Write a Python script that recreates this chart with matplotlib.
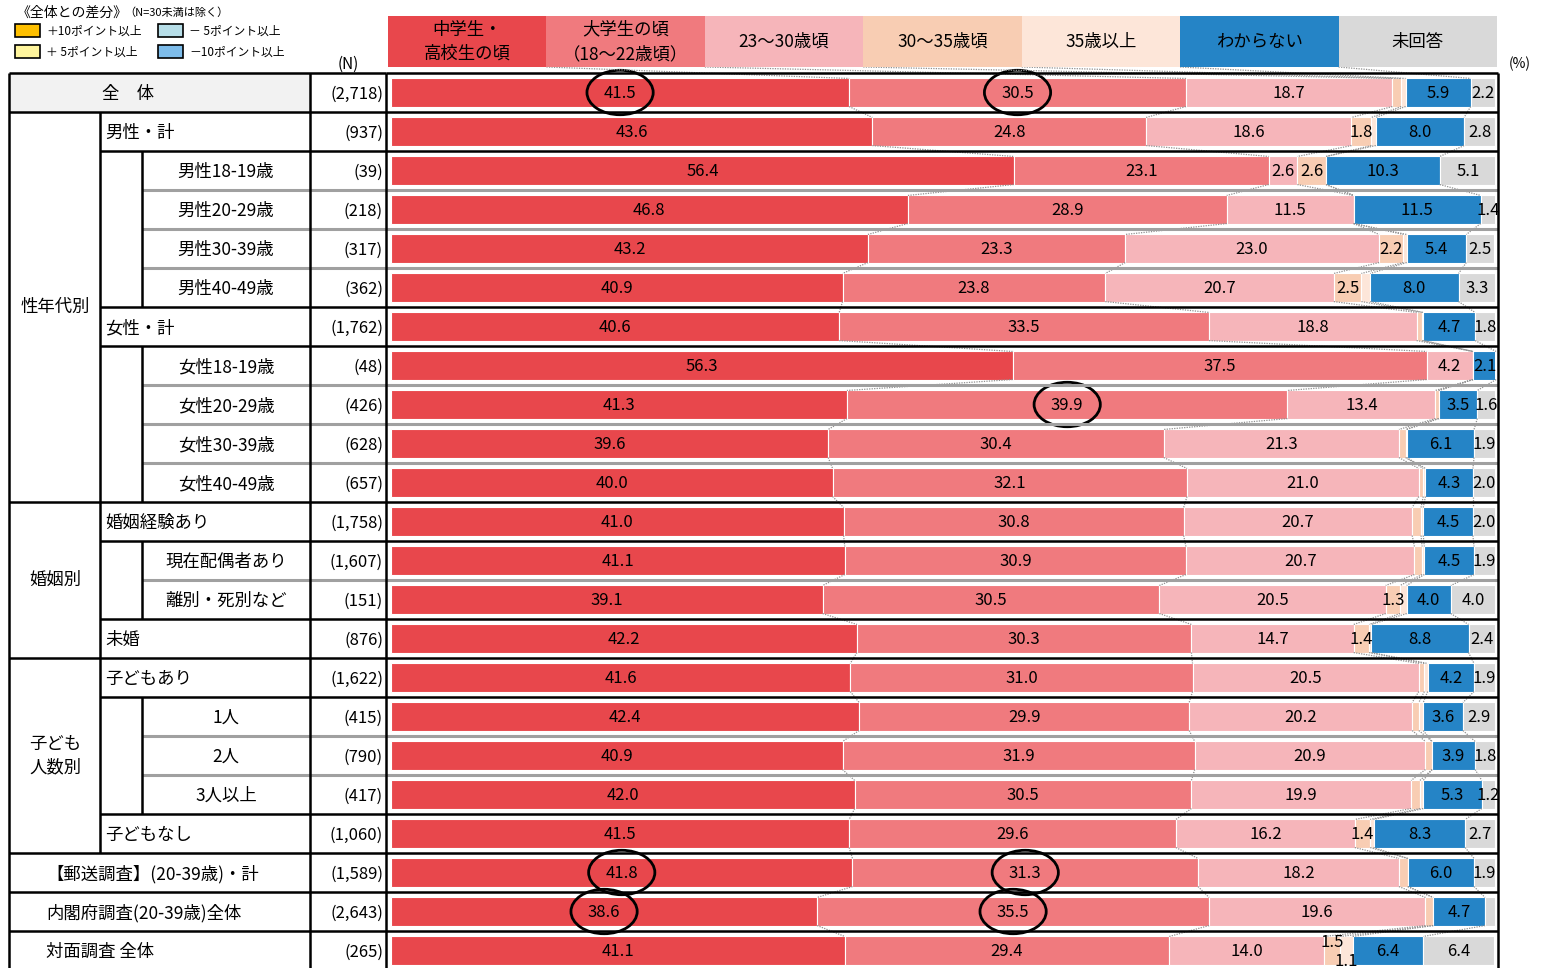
import matplotlib
matplotlib.use("Agg")
import matplotlib.pyplot as plt
from matplotlib.patches import Rectangle, Ellipse
import numpy as np

plt.rcParams['font.family'] = ['Noto Sans CJK JP', 'DejaVu Sans']

# カテゴリ（凡例ヘッダ）
categories = ['中学生・\n高校生の頃', '大学生の頃\n（18～22歳頃）', '23～30歳頃', '30～35歳頃',
              '35歳以上', 'わからない', '未回答']
colors = ['#E8474C', '#F07A7E', '#F6B5BA', '#F8CDB3', '#FDE6D9', '#2584C6', '#D9D9D9']

row_labels = ['全　体', '男性・計', '男性18-19歳', '男性20-29歳', '男性30-39歳', '男性40-49歳',
              '女性・計', '女性18-19歳', '女性20-29歳', '女性30-39歳', '女性40-49歳',
              '婚姻経験あり', '現在配偶者あり', '離別・死別など', '未婚',
              '子どもあり', '1人', '2人', '3人以上', '子どもなし',
              '【郵送調査】(20-39歳)・計', '内閣府調査(20-39歳)全体', '対面調査 全体']
n_labels = ['(2,718)', '(937)', '(39)', '(218)', '(317)', '(362)', '(1,762)', '(48)', '(426)',
            '(628)', '(657)', '(1,758)', '(1,607)', '(151)', '(876)', '(1,622)', '(415)',
            '(790)', '(417)', '(1,060)', '(1,589)', '(2,643)', '(265)']

# 各カテゴリの値（%）
junior = [41.5, 43.6, 56.4, 46.8, 43.2, 40.9, 40.6, 56.3, 41.3, 39.6, 40.0, 41.0, 41.1, 39.1,
          42.2, 41.6, 42.4, 40.9, 42.0, 41.5, 41.8, 38.6, 41.1]
univ = [30.5, 24.8, 23.1, 28.9, 23.3, 23.8, 33.5, 37.5, 39.9, 30.4, 32.1, 30.8, 30.9, 30.5,
        30.3, 31.0, 29.9, 31.9, 30.5, 29.6, 31.3, 35.5, 29.4]
age23_30 = [18.7, 18.6, 2.6, 11.5, 23.0, 20.7, 18.8, 4.2, 13.4, 21.3, 21.0, 20.7, 20.7, 20.5,
            14.7, 20.5, 20.2, 20.9, 19.9, 16.2, 18.2, 19.6, 14.0]
age30_35 = [0.8, 1.8, 2.6, 0.0, 2.2, 2.5, 0.5, 0.0, 0.3, 0.6, 0.4, 0.8, 0.7, 1.3,
            1.4, 0.5, 0.6, 0.6, 0.8, 1.4, 0.8, 0.7, 1.5]
age35_plus = [0.4, 0.4, 0.0, 0.0, 0.3, 0.8, 0.1, 0.0, 0.0, 0.1, 0.2, 0.2, 0.2, 0.6,
              0.2, 0.3, 0.4, 0.0, 0.3, 0.3, 0.0, 0.0, 1.1]
unknown = [5.9, 8.0, 10.3, 11.5, 5.4, 8.0, 4.7, 2.1, 3.5, 6.1, 4.3, 4.5, 4.5, 4.0,
           8.8, 4.2, 3.6, 3.9, 5.3, 8.3, 6.0, 4.7, 6.4]
no_answer = [2.2, 2.8, 5.1, 1.4, 2.5, 3.3, 1.8, 0.0, 1.6, 1.9, 2.0, 2.0, 1.9, 4.0,
             2.4, 1.9, 2.9, 1.8, 1.2, 2.7, 1.9, 0.9, 6.4]

circled = [(0, 0), (0, 1), (8, 1), (20, 0), (20, 1), (21, 0), (21, 1)]

series = np.array([junior, univ, age23_30, age30_35, age35_plus, unknown, no_answer])
nrow = len(row_labels)

W, H = 1542, 968
fig = plt.figure(figsize=(W / 100, H / 100), dpi=100)

# 棒グラフ用の軸
X0, X1 = 391, 1495
TOP = 73
ax = fig.add_axes([X0 / W, 0, (X1 - X0) / W, (H - TOP) / H])
ax.set_xlim(0, 100)
ax.set_ylim((H - TOP) / 39 - 0.5, -0.5)
ax.axis('off')

# 表・見出し用の軸（ピクセル座標）
ov = fig.add_axes([0, 0, 1, 1], zorder=3)
ov.set_xlim(0, W)
ov.set_ylim(H, 0)
ov.axis('off')

bh = 0.72
y = np.arange(nrow)
left = np.zeros(nrow)
for k in range(7):
    ax.barh(y, series[k], left=left, height=bh, color=colors[k], edgecolor='white', linewidth=0.8)
    for i in range(nrow):
        v = series[k][i]
        if v >= 1.0:
            dy = 0.03
            if i == 22 and k == 3:
                dy = -0.2
            elif i == 22 and k == 4:
                dy = 0.27
            ax.text(left[i] + v / 2, i + dy, f'{v:.1f}', ha='center', va='center', fontsize=12)
    left = left + series[k]

# 点線のつなぎ線
cum = np.cumsum(series, axis=0)
for i in range(nrow - 1):
    for k in range(6):
        ax.plot([cum[k][i], cum[k][i + 1]], [i + bh / 2, i + 1 - bh / 2], color='#909090',
                lw=0.9, ls=(0, (1, 1)), clip_on=False)
hw = (1497 - 388) / 7
hdr_bottom = (67 - TOP) / 39 - 0.5
for k in range(6):
    hx = (388 + hw * (k + 1) - X0) / (X1 - X0) * 100
    ax.plot([hx, cum[k][0]], [hdr_bottom, -bh / 2], color='#909090', lw=0.9,
            ls=(0, (1, 1)), clip_on=False)

# 丸印
for (i, k) in circled:
    cx = cum[k][i] - series[k][i] / 2
    ax.add_patch(Ellipse((cx, i), 6.0, 1.14, fill=False, edgecolor='black', lw=2, clip_on=False))

# ヘッダ
for k in range(7):
    ov.add_patch(Rectangle((388 + hw * k, 16), hw, 51, color=colors[k], lw=0))
    ov.text(388 + hw * (k + 0.5), 42, categories[k], ha='center', va='center', fontsize=12.5,
            linespacing=1.45)
ov.text(348, 64, '(N)', ha='center', va='center', fontsize=11)
ov.text(1520, 64, '(%)', ha='center', va='center', fontsize=10)

# 凡例（全体との差分）
ov.text(17, 13, '《全体との差分》', ha='left', va='center', fontsize=10)
ov.text(124, 13, '（N=30未満は除く）', ha='left', va='center', fontsize=8)
leg = [(15, 24, '#FFC000', '＋10ポイント以上'), (15, 45, '#FFF59D', '＋ 5ポイント以上'),
       (158, 24, '#B7DEE8', '－ 5ポイント以上'), (158, 45, '#7DBCEA', '－10ポイント以上')]
for lx, ly, lc, lt in leg:
    ov.add_patch(Rectangle((lx, ly), 25, 13, facecolor=lc, edgecolor='black', lw=1.2))
    ov.text(lx + 31, ly + 7, lt, ha='left', va='center', fontsize=8.5)

# 表
def rtop(i):
    return TOP + 39 * i

ov.add_patch(Rectangle((9, rtop(0)), 301, 39, color='#F2F2F2', lw=0, zorder=0))

line_above = ['b9', 'b9', 'b100', 'g142', 'g142', 'g142', 'b100', 'b100', 'g142', 'g142', 'g142',
              'b9', 'b100', 'g142', 'b100', 'b9', 'b100', 'g142', 'g142', 'b100', 'b9', 'b9', 'b9']
for i, code in enumerate(line_above):
    xs = int(code[1:])
    col = 'black' if code[0] == 'b' else '#A0A0A0'
    ov.plot([xs, 386], [rtop(i), rtop(i)], color=col, lw=1.8 if col == 'black' else 2.2,
            solid_capstyle='butt')
    ov.plot([386, 1498], [rtop(i), rtop(i)], color=col, lw=1.8 if col == 'black' else 2.2,
            solid_capstyle='butt')

vl = [(9, 0, 24), (310, 0, 24), (386, 0, 24), (1498, 0, 24), (100, 1, 20),
      (142, 2, 6), (142, 7, 11), (142, 12, 14), (142, 16, 19)]
for vx, r0, r1 in vl:
    ov.plot([vx, vx], [rtop(r0), min(rtop(r1), H + 5)], color='black', lw=1.8, solid_capstyle='butt')

groups = [('性年代別', 1, 11), ('婚姻別', 11, 15), ('子ども\n人数別', 15, 20)]
for g, r0, r1 in groups:
    ov.text(55, (rtop(r0) + rtop(r1)) / 2, g, ha='center', va='center', fontsize=12.5,
            linespacing=1.4)

level1 = [1, 6, 11, 14, 15, 19]
level2 = [2, 3, 4, 5, 7, 8, 9, 10, 12, 13, 16, 17, 18]
for i in range(nrow):
    yc = rtop(i) + 21
    if i == 0:
        ov.text(128, yc, row_labels[i], ha='center', va='center', fontsize=12.5)
    elif i in level1:
        ov.text(105, yc, row_labels[i], ha='left', va='center', fontsize=12.5)
    elif i in level2:
        ov.text(226, yc, row_labels[i], ha='center', va='center', fontsize=12.5)
    else:
        ov.text(46, yc, row_labels[i], ha='left', va='center', fontsize=12.5)
    ov.text(383, yc, n_labels[i], ha='right', va='center', fontsize=12)

fig.savefig('out.png', dpi=100)
